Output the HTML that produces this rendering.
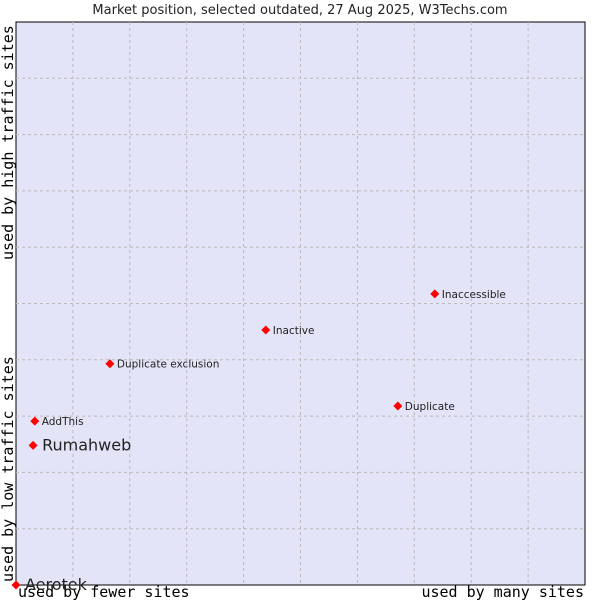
<!DOCTYPE html>
<html><head><meta charset="utf-8"><style>
body{margin:0;background:#fff;}
svg text{font-family:"DejaVu Sans","Liberation Sans",sans-serif;}
</style></head><body>
<svg id="chart" width="600" height="600" xmlns="http://www.w3.org/2000/svg">
<text x="300" y="14" font-size="13" text-anchor="middle" fill="#222">Market position, selected outdated, 27 Aug 2025, W3Techs.com</text>
<rect x="16" y="22" width="569" height="563" fill="#e3e4f8" stroke="#000" stroke-width="1"/>
<g id="grid"></g>
<text transform="translate(13,260) rotate(-90)" font-size="15" fill="#000" style="font-family:'DejaVu Sans Mono','Liberation Mono',monospace">used by high traffic sites</text>
<text transform="translate(13,582) rotate(-90)" font-size="15" fill="#000" style="font-family:'DejaVu Sans Mono','Liberation Mono',monospace">used by low traffic sites</text>
<text x="18" y="597" font-size="15" fill="#000" style="font-family:'DejaVu Sans Mono','Liberation Mono',monospace">used by fewer sites</text>
<text x="584" y="597" font-size="15" text-anchor="end" fill="#000" style="font-family:'DejaVu Sans Mono','Liberation Mono',monospace">used by many sites</text>
<g id="points"></g>
</svg>
<script>
const labels=["Aerotek","Rumahweb","AddThis","Duplicate exclusion","Inactive","Inaccessible","Duplicate"];
const xValues=[0,3.0,3.3,16.5,43.9,73.6,67.1];
const yValues=[0,24.8,29.1,39.3,45.3,51.7,31.8];
const highlight=[true,true,false,false,false,false,false];
const X0=16,X1=585,Y0=585,Y1=22;
const xs=v=>X0+v/100*(X1-X0);
const ys=v=>Y0-v/100*(Y0-Y1);
const NS="http://www.w3.org/2000/svg";
const grid=document.getElementById('grid');
for(let i=1;i<10;i++){
 const l=document.createElementNS(NS,'line');
 
 
 l.setAttribute('x1',xs(i*10));l.setAttribute('x2',xs(i*10));l.setAttribute('y1',Y1);l.setAttribute('y2',Y0);
 l.setAttribute('stroke','#bbb');l.setAttribute('stroke-dasharray','3,3');grid.appendChild(l);
 const h=document.createElementNS(NS,'line');
 
 
 h.setAttribute('y1',ys(i*10));h.setAttribute('y2',ys(i*10));h.setAttribute('x1',X0);h.setAttribute('x2',X1);
 h.setAttribute('stroke','#bbb');h.setAttribute('stroke-dasharray','3,3');grid.appendChild(h);
}
const pts=document.getElementById('points');
labels.forEach((lab,i)=>{
 const x=xs(xValues[i]),y=ys(yValues[i]);
 const d=document.createElementNS(NS,'path');
 
 
 d.setAttribute('d',`M${x} ${y-4.5}L${x+4.5} ${y}L${x} ${y+4.5}L${x-4.5} ${y}Z`);
 d.setAttribute('fill','#f00');pts.appendChild(d);
 const t=document.createElementNS(NS,'text');
 
 
 t.setAttribute('x',x+(highlight[i]?9:7));
 t.setAttribute('y',y+(highlight[i]?5:4));
 t.setAttribute('font-size',highlight[i]?16:10.5);
 t.setAttribute('fill','#222');
 t.textContent=lab;pts.appendChild(t);
});
</script>
</body></html>
